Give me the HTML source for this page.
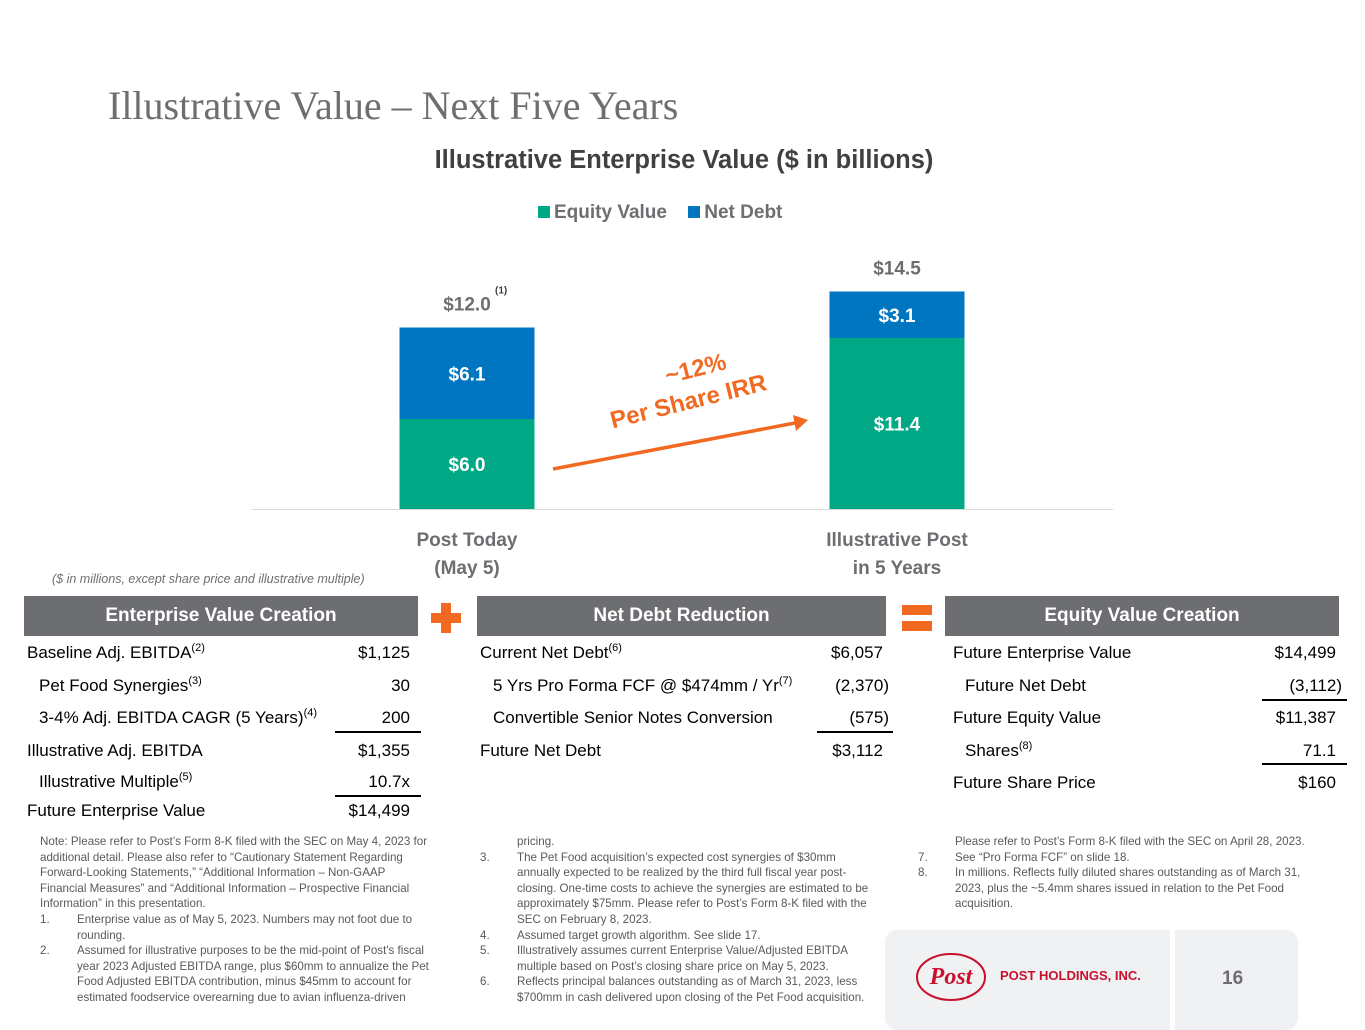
<!DOCTYPE html>
<html><head><meta charset="utf-8"><style>
*{margin:0;padding:0;box-sizing:border-box}
body{width:1365px;height:1024px;background:#fff;position:relative;overflow:hidden;font-family:"Liberation Sans",sans-serif;color:#000}
.a{position:absolute;white-space:nowrap}
.hdr{position:absolute;top:596px;height:40px;background:#6d6e71;color:#fff;font-weight:bold;font-size:19px;line-height:40px;text-align:center}
.r{position:absolute;font-size:17px;white-space:nowrap;line-height:20px}
.v{text-align:right}
sup{font-size:11px;vertical-align:top;position:relative;top:-5px}
.ul{position:absolute;height:1.5px;background:#000}
.fn{position:absolute;font-size:11.6px;color:#595959;line-height:15.6px;white-space:nowrap}
.fn div{height:15.6px}
.num{display:inline-block;width:37px}
.ind{padding-left:37px}
</style></head><body>
<div class="a" style="left:108px;top:82px;font-family:'Liberation Serif',serif;font-size:40px;color:#6d6e71">Illustrative Value – Next Five Years</div>
<div class="a" style="left:0;width:1365px;text-align:center;top:146px;font-size:25.5px;font-weight:bold;color:#404040;padding-left:3px">Illustrative Enterprise Value ($ in billions)</div>
<div class="a" style="left:538px;top:202px;font-size:19px;font-weight:bold;color:#6d6e71">
<span><span style="display:inline-block;width:12px;height:12px;background:#00a886;margin-right:4px"></span>Equity Value</span>
<span style="margin-left:16px"><span style="display:inline-block;width:12px;height:12px;background:#0076c0;margin-right:4px"></span>Net Debt</span></div>
<svg id="chart" width="1365" height="600" style="position:absolute;left:0;top:0" font-family="Liberation Sans, sans-serif" font-weight="bold"></svg>
<div class="a" style="left:600px;top:378px;transform:rotate(-14deg);transform-origin:left top;color:#f26a21;font-weight:bold;font-size:24px;text-align:center;line-height:30px"><div style="padding-left:30px">~12%</div><div>Per Share IRR</div></div>
<div class="a" style="left:367px;width:200px;text-align:center;top:527px;font-size:19px;font-weight:bold;color:#6d6e71;line-height:28px">Post Today<br>(May 5)</div>
<div class="a" style="left:797px;width:200px;text-align:center;top:527px;font-size:19px;font-weight:bold;color:#6d6e71;line-height:28px">Illustrative Post<br>in 5 Years</div>
<div class="a" style="left:52px;top:572px;font-size:12.5px;font-style:italic;color:#6d6e71">($ in millions, except share price and illustrative multiple)</div>

<div class="hdr" style="left:24px;width:394px">Enterprise Value Creation</div>
<div class="hdr" style="left:477px;width:409px">Net Debt Reduction</div>
<div class="hdr" style="left:945px;width:394px">Equity Value Creation</div>
<div style="position:absolute;left:431px;top:603px;width:30px;height:30px">
<div style="position:absolute;left:10px;top:0;width:10px;height:30px;background:#f26a21"></div><div style="position:absolute;left:0;top:10px;width:30px;height:10px;background:#f26a21"></div></div>
<div style="position:absolute;left:902px;top:605px;width:30px;height:26px">
<div style="position:absolute;left:0;top:0;width:30px;height:10px;background:#f26a21"></div><div style="position:absolute;left:0;top:16px;width:30px;height:10px;background:#f26a21"></div></div>

<div>
<div class="r" style="left:27px;top:643px">Baseline Adj. EBITDA<sup>(2)</sup></div><div class="r v" style="right:955px;top:643px">$1,125</div>
<div class="r" style="left:39px;top:676px">Pet Food Synergies<sup>(3)</sup></div><div class="r v" style="right:955px;top:676px">30</div>
<div class="r" style="left:39px;top:708px">3-4% Adj. EBITDA CAGR (5 Years)<sup>(4)</sup></div><div class="r v" style="right:955px;top:708px">200</div>
<div class="ul" style="left:335px;width:86px;top:731px"></div>
<div class="r" style="left:27px;top:741px">Illustrative Adj. EBITDA</div><div class="r v" style="right:955px;top:741px">$1,355</div>
<div class="r" style="left:39px;top:772px">Illustrative Multiple<sup>(5)</sup></div><div class="r v" style="right:955px;top:772px">10.7x</div>
<div class="ul" style="left:335px;width:86px;top:795px"></div>
<div class="r" style="left:27px;top:801px">Future Enterprise Value</div><div class="r v" style="right:955px;top:801px">$14,499</div>
</div>
<div>
<div class="r" style="left:480px;top:643px">Current Net Debt<sup>(6)</sup></div><div class="r v" style="right:482px;top:643px">$6,057</div>
<div class="r" style="left:493px;top:676px">5 Yrs Pro Forma FCF @ $474mm / Yr<sup>(7)</sup></div><div class="r v" style="right:476px;top:676px">(2,370)</div>
<div class="r" style="left:493px;top:708px">Convertible Senior Notes Conversion</div><div class="r v" style="right:476px;top:708px">(575)</div>
<div class="ul" style="left:817px;width:76px;top:731px"></div>
<div class="r" style="left:480px;top:741px">Future Net Debt</div><div class="r v" style="right:482px;top:741px">$3,112</div>
</div>
<div>
<div class="r" style="left:953px;top:643px">Future Enterprise Value</div><div class="r v" style="right:29px;top:643px">$14,499</div>
<div class="r" style="left:965px;top:676px">Future Net Debt</div><div class="r v" style="right:23px;top:676px">(3,112)</div>
<div class="ul" style="left:1262px;width:85px;top:699px"></div>
<div class="r" style="left:953px;top:708px">Future Equity Value</div><div class="r v" style="right:29px;top:708px">$11,387</div>
<div class="r" style="left:965px;top:741px">Shares<sup>(8)</sup></div><div class="r v" style="right:29px;top:741px">71.1</div>
<div class="ul" style="left:1262px;width:85px;top:763px"></div>
<div class="r" style="left:953px;top:773px">Future Share Price</div><div class="r v" style="right:29px;top:773px">$160</div>
</div>

<div class="fn" style="left:40px;top:834px">
<div>Note: Please refer to Post’s Form 8-K filed with the SEC on May 4, 2023 for</div>
<div>additional detail. Please also refer to “Cautionary Statement Regarding</div>
<div>Forward-Looking Statements,” “Additional Information – Non-GAAP</div>
<div>Financial Measures” and “Additional Information – Prospective Financial</div>
<div>Information” in this presentation.</div>
<div><span class="num">1.</span>Enterprise value as of May 5, 2023. Numbers may not foot due to</div>
<div class="ind">rounding.</div>
<div><span class="num">2.</span>Assumed for illustrative purposes to be the mid-point of Post's fiscal</div>
<div class="ind">year 2023 Adjusted EBITDA range, plus $60mm to annualize the Pet</div>
<div class="ind">Food Adjusted EBITDA contribution, minus $45mm to account for</div>
<div class="ind">estimated foodservice overearning due to avian influenza-driven</div>
</div>
<div class="fn" style="left:480px;top:834px">
<div class="ind">pricing.</div>
<div><span class="num">3.</span>The Pet Food acquisition’s expected cost synergies of $30mm</div>
<div class="ind">annually expected to be realized by the third full fiscal year post-</div>
<div class="ind">closing. One-time costs to achieve the synergies are estimated to be</div>
<div class="ind">approximately $75mm. Please refer to Post’s Form 8-K filed with the</div>
<div class="ind">SEC on February 8, 2023.</div>
<div><span class="num">4.</span>Assumed target growth algorithm. See slide 17.</div>
<div><span class="num">5.</span>Illustratively assumes current Enterprise Value/Adjusted EBITDA</div>
<div class="ind">multiple based on Post’s closing share price on May 5, 2023.</div>
<div><span class="num">6.</span>Reflects principal balances outstanding as of March 31, 2023, less</div>
<div class="ind">$700mm in cash delivered upon closing of the Pet Food acquisition.</div>
</div>
<div class="fn" style="left:918px;top:834px">
<div class="ind">Please refer to Post’s Form 8-K filed with the SEC on April 28, 2023.</div>
<div><span class="num">7.</span>See “Pro Forma FCF” on slide 18.</div>
<div><span class="num">8.</span>In millions. Reflects fully diluted shares outstanding as of March 31,</div>
<div class="ind">2023, plus the ~5.4mm shares issued in relation to the Pet Food</div>
<div class="ind">acquisition.</div>
</div>

<div style="position:absolute;left:885px;top:930px;width:413px;height:100px;background:#f0f1f3;border-radius:12px"></div>
<div style="position:absolute;left:1170px;top:930px;width:5px;height:100px;background:#fff"></div>
<svg style="position:absolute;left:914px;top:951px" width="80" height="52"><ellipse cx="37" cy="26" rx="34" ry="23" fill="none" stroke="#c8102e" stroke-width="2"/><text x="37" y="33" text-anchor="middle" font-family="Liberation Serif,serif" font-style="italic" font-weight="bold" font-size="24" fill="#c8102e">Post</text></svg>
<div class="a" style="left:1000px;top:968px;font-weight:bold;font-size:13px;color:#c8102e">POST HOLDINGS, INC.</div>
<div class="a" style="left:1222px;top:968px;font-weight:bold;font-size:19px;color:#6d6e71">16</div>

<script>
const categories=["Post Today (May 5)","Illustrative Post in 5 Years"];
const equityValues=[6.0,11.4];
const netDebtValues=[6.1,3.1];
const totalLabels=["$12.0","$14.5"];
const svg=document.getElementById('chart');
const NS="http://www.w3.org/2000/svg";
const baseY=509, pxPerUnit=15;
const y=v=>baseY-v*pxPerUnit;
const xCenter=i=>467+i*430;
const barW=135;
function mk(tag,attrs){const e=document.createElementNS(NS,tag);for(const k in attrs)e.setAttribute(k,attrs[k]);svg.appendChild(e);return e;}
const ax=mk('line',{x1:252,x2:1113,y1:baseY+0.5,y2:baseY+0.5,stroke:'#d9d9d9','stroke-width':1});


categories.forEach((c,i)=>{
  const e=equityValues[i], d=netDebtValues[i], cx=xCenter(i);
  const b1=mk('rect',{x:cx-barW/2,y:y(e),width:barW,height:e*pxPerUnit,fill:'#00a886'});
  
  
  const b2=mk('rect',{x:cx-barW/2,y:y(e+d),width:barW,height:d*pxPerUnit,fill:'#0076c0'});
  
  
  const t1=mk('text',{x:cx,y:(y(e)+baseY)/2+7,'text-anchor':'middle',fill:'#fff','font-size':19});
  t1.textContent='$'+e.toFixed(1);
  
  
  const t2=mk('text',{x:cx,y:(y(e)+y(e+d))/2+7,'text-anchor':'middle',fill:'#fff','font-size':19});
  t2.textContent='$'+d.toFixed(1);
  
  
  const t3=mk('text',{x:cx,y:y(e+d)-17,'text-anchor':'middle',fill:'#6d6e71','font-size':19});
  t3.textContent=totalLabels[i];
  
  
  if(i===0){const s=mk('text',{x:cx+28,y:y(e+d)-34,fill:'#404040','font-size':10});s.textContent='(1)';
  
  }
});
const ar=mk('line',{x1:553,y1:469,x2:795,y2:423,stroke:'#f26a21','stroke-width':3.5});


const ah=mk('polygon',{points:'808,420 793,415 796,431',fill:'#f26a21'});


</script>
</body></html>
